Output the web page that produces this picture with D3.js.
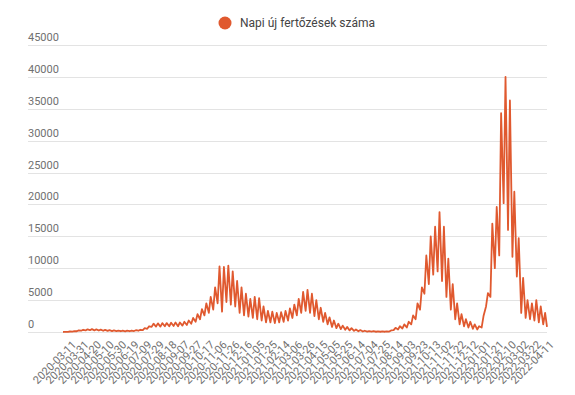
<!DOCTYPE html>
<html>
<head>
    <title>Napi új fertőzések száma</title>
    <meta charset="utf-8">
    <script src="https://d3js.org/d3.v7.min.js"></script>
    <style>
        body { margin: 0; background: #fff; }
        svg { display: block; font-family: Roboto, "Noto Sans", sans-serif; }
        .grid line { stroke: #e3e3e3; stroke-width: 1px; }
        .ylab, .xlab { font-size: 11px; fill: #707070; }
        .legend text { font-size: 12px; fill: #444; }
    </style>
</head>
<body>
<svg id="chart"></svg>
<script>
// series name
var seriesName = "Napi új fertőzések száma";

// y axis ticks
var yTicks = [0, 5000, 10000, 15000, 20000, 25000, 30000, 35000, 40000, 45000];

// x labels, every 20th day from day 7
var tickLabels = [
    "2020-03-11", "2020-03-31", "2020-04-20", "2020-05-10", "2020-05-30", "2020-06-19",
    "2020-07-09", "2020-07-29", "2020-08-18", "2020-09-07", "2020-09-27", "2020-10-17",
    "2020-11-06", "2020-11-26", "2020-12-16", "2021-01-05", "2021-01-25", "2021-02-14",
    "2021-03-06", "2021-03-26", "2021-04-15", "2021-05-05", "2021-05-25", "2021-06-14",
    "2021-07-04", "2021-07-25", "2021-08-14", "2021-09-03", "2021-09-23", "2021-10-13",
    "2021-11-02", "2021-11-22", "2021-12-12", "2022-01-01", "2022-01-21", "2022-02-10",
    "2022-03-02", "2022-03-22", "2022-04-11"
];

// weekly highs and lows of the daily numbers
var weekHigh = [
    30, 80, 150, 250, 350, 420, 450, 420, 380, 330,
    300, 260, 230, 220, 200, 230, 280, 350, 600, 900,
    1300, 1350, 1400, 1400, 1450, 1500, 1500, 1600, 1800, 2200,
    2800, 3600, 4500, 5500, 7000, 10300, 10200, 10400, 9500, 8000,
    7000, 6000, 5200, 5500, 5300, 4000, 3300, 3200, 3000, 3100,
    3300, 3700, 4300, 5200, 6300, 6600, 6000, 5000, 3800, 3000,
    2300, 1800, 1300, 1000, 800, 600, 400, 300, 200, 150,
    120, 100, 100, 110, 250, 650, 900, 1200, 1600, 2600,
    4500, 7000, 12000, 15000, 16500, 18800, 16500, 11500, 7500, 4500,
    2800, 2000, 1600, 1200, 900, 2500, 6100, 17000, 19600, 34300,
    40000, 36300, 22000, 14700, 8500, 5000, 4500, 5000, 4000, 3000
];
var weekLow = [
    5, 30, 60, 120, 200, 250, 280, 250, 230, 200,
    180, 150, 140, 120, 110, 120, 150, 200, 300, 500,
    800, 850, 850, 900, 900, 950, 900, 1000, 1100, 1300,
    1600, 2000, 2600, 3000, 3500, 4500, 3200, 4700, 4300, 4000,
    3000, 2600, 2400, 2200, 2000, 1800, 1500, 1500, 1400, 1500,
    1600, 1800, 2200, 2600, 3000, 3300, 3000, 2500, 2000, 1600,
    1200, 800, 600, 450, 350, 250, 180, 120, 80, 60,
    50, 40, 40, 40, 60, 300, 400, 550, 700, 1200,
    2000, 3500, 6000, 7500, 9000, 9500, 8000, 5500, 3500, 2000,
    1200, 900, 700, 500, 400, 700, 4000, 5500, 10000, 12000,
    20200, 16000, 11800, 8700, 3000, 2200, 2000, 1800, 1500, 1200
];
var firstValue = 0;
var lastValue = 800;
var totalDays = 770;

var W = 575, H = 395;
var svg = d3.select("#chart").attr("width", W).attr("height", H);

var x = d3.scaleLinear().domain([0, totalDays]).range([63, 547]);
var y = d3.scaleLinear().domain([0, 45000]).range([332, 45]);

// build the daily points: low early in the week, high mid week
var points = [{ d: 0, v: firstValue }];
weekHigh.forEach(function (h, w) {
    points.push({ d: w * 7 + 1, v: weekLow[w] });
    points.push({ d: w * 7 + 4, v: h });
});
points.push({ d: totalDays, v: lastValue });

// grid + y labels
var grid = svg.append("g").attr("class", "grid");
grid.selectAll("line")
    .data(yTicks)
    .enter()
    .append("line")
    .attr("x1", 28)
    .attr("x2", 547)
    .attr("y1", function (d) { return Math.round(y(d)) + 0.5; })
    .attr("y2", function (d) { return Math.round(y(d)) + 0.5; });

svg.selectAll(".ylab")
    .data(yTicks)
    .enter()
    .append("text")
    .attr("class", "ylab")
    .attr("x", 28)
    .attr("y", function (d) { return y(d) - 4; })
    .text(function (d) { return d; });

// x labels
var tickDays = tickLabels.map(function (l, i) { return 7 + i * 20; });
svg.selectAll(".xlab")
    .data(tickDays)
    .enter()
    .append("text")
    .attr("class", "xlab")
    .attr("text-anchor", "end")
    .attr("transform", function (d) {
        return "translate(" + (x(d) + 4) + ",340) rotate(-45)";
    })
    .attr("dy", "0.7em")
    .text(function (d, i) { return tickLabels[i]; });

// line
var line = d3.line()
    .x(function (p) { return x(p.d); })
    .y(function (p) { return y(p.v); });

svg.append("path")
    .datum(points)
    .attr("fill", "none")
    .attr("stroke", "#e0592f")
    .attr("stroke-width", 1.8)
    .attr("stroke-linejoin", "round")
    .attr("d", line);

// legend
var legend = svg.append("g").attr("class", "legend");
legend.append("circle")
    .attr("cx", 225)
    .attr("cy", 23)
    .attr("r", 6.5)
    .attr("fill", "#e0592f");
legend.append("text")
    .attr("x", 240)
    .attr("y", 27)
    .text(seriesName);
</script>
</body>
</html>
